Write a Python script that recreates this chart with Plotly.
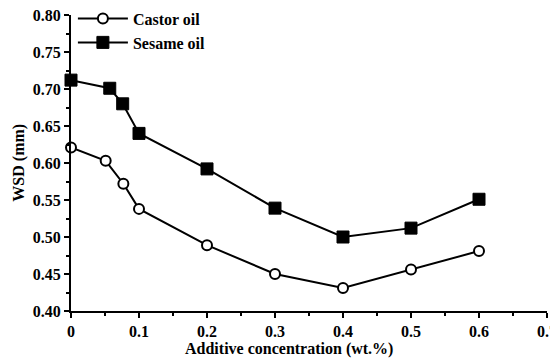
import plotly.graph_objects as go

castor_x = [0, 0.051, 0.077, 0.1, 0.2, 0.3, 0.4, 0.5, 0.6]
castor_y = [0.621, 0.603, 0.572, 0.538, 0.489, 0.450, 0.431, 0.456, 0.481]
sesame_x = [0, 0.057, 0.076, 0.1, 0.2, 0.3, 0.4, 0.5, 0.6]
sesame_y = [0.712, 0.701, 0.680, 0.640, 0.592, 0.539, 0.500, 0.512, 0.551]

x_ticks = [0, 0.1, 0.2, 0.3, 0.4, 0.5, 0.6, 0.7]
x_labels = ["0", "0.1", "0.2", "0.3", "0.4", "0.5", "0.6", "0.7"]
y_ticks = [0.40, 0.45, 0.50, 0.55, 0.60, 0.65, 0.70, 0.75, 0.80]
y_labels = ["0.40", "0.45", "0.50", "0.55", "0.60", "0.65", "0.70", "0.75", "0.80"]

FONT = "Liberation Serif, Times New Roman, serif"

fig = go.Figure()
fig.add_trace(go.Scatter(
    x=castor_x, y=castor_y, name="Castor oil", mode="lines+markers",
    line=dict(color="black", width=2),
    marker=dict(symbol="circle", size=10, color="white", line=dict(color="black", width=2)),
    cliponaxis=False,
))
fig.add_trace(go.Scatter(
    x=sesame_x, y=sesame_y, name="Sesame oil", mode="lines+markers",
    line=dict(color="black", width=2),
    marker=dict(symbol="square", size=12, color="black", line=dict(color="black", width=1)),
    cliponaxis=False,
))

tick_font = dict(family=FONT, size=16, color="black", weight="bold")
title_font = dict(family=FONT, size=16, color="black", weight="bold")

# The page body adds an 8px offset; margins compensate for it.
fig.update_layout(
    width=550, height=352,
    margin=dict(l=63, r=11, t=7, b=49, autoexpand=False),
    paper_bgcolor="white", plot_bgcolor="white",
    font=dict(family=FONT, size=16, color="black"),
    showlegend=True,
    legend=dict(
        x=0.004, y=1.045, xanchor="left", yanchor="top",
        bgcolor="rgba(0,0,0,0)", borderwidth=0,
        font=dict(family=FONT, size=16, color="black", weight="bold"),
        itemwidth=50, tracegroupgap=0,
    ),
    xaxis=dict(
        range=[0, 0.7], tickvals=x_ticks, ticktext=x_labels,
        showgrid=False, zeroline=False, automargin=False,
        ticklabeloverflow="allow",
        showline=True, linecolor="black", linewidth=2,
        ticks="outside", ticklen=5, tickwidth=2, tickcolor="black",
        minor=dict(dtick=0.05, ticks="outside", ticklen=3, tickwidth=2, tickcolor="black", showgrid=False),
        tickfont=tick_font,
    ),
    yaxis=dict(
        range=[0.40, 0.80], tickvals=y_ticks, ticktext=y_labels,
        showgrid=False, zeroline=False, automargin=False,
        ticklabeloverflow="allow",
        showline=True, linecolor="black", linewidth=2,
        ticks="outside", ticklen=5, tickwidth=2, tickcolor="black",
        minor=dict(dtick=0.025, ticks="outside", ticklen=3, tickwidth=2, tickcolor="black", showgrid=False),
        tickfont=tick_font,
    ),
    annotations=[
        dict(text="Additive concentration (wt.%)", xref="paper", yref="paper",
             x=0.458, y=-0.128, xanchor="center", yanchor="middle",
             showarrow=False, font=title_font),
        dict(text="WSD (mm)", xref="paper", yref="paper",
             x=-0.110, y=0.5, xanchor="center", yanchor="middle",
             textangle=-90, showarrow=False, font=title_font),
    ],
)

fig.write_html("out.html")
